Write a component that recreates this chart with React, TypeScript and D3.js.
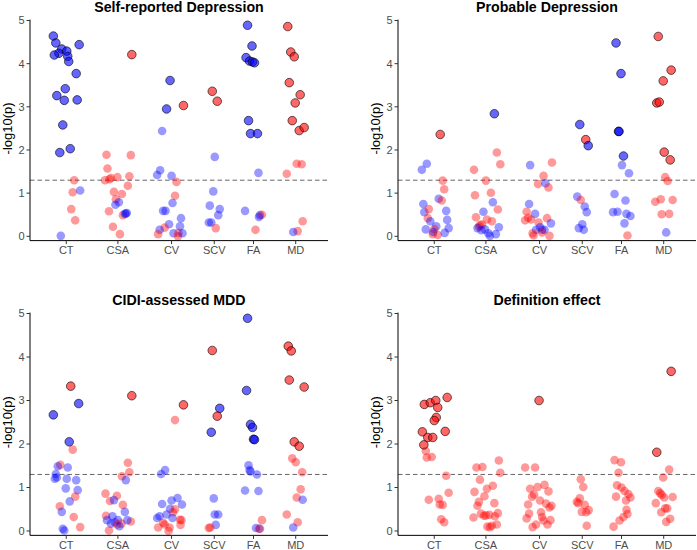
import React from "react";
import * as d3 from "d3";

const categories = ["CT", "CSA", "CV", "SCV", "FA", "MD"];
const categoryPos = [0.73, 1.77, 2.85, 3.71, 4.5, 5.35];
const yTicks = [0, 1, 2, 3, 4, 5];
const threshold = 1.3; // -log10(0.05)
const titles = ["Self-reported Depression", "Probable Depression", "CIDI-assessed MDD", "Definition effect"];

// [category, jitter, -log10(p), direction (1 = blue, -1 = red), significant]
type Pt = [string, number, number, number, number];

const selfReported: Pt[] = [
  ["CT", -0.26, 4.64, 1, 1], ["CT", -0.21, 4.48, 1, 1], ["CT", -0.09, 4.34, 1, 1], ["CT", -0.15, 4.24, 1, 1],
  ["CT", -0.24, 4.2, 1, 1], ["CT", 0.01, 4.29, 1, 1], ["CT", 0.03, 4.17, 1, 1], ["CT", 0.05, 4.05, 1, 1],
  ["CT", 0.26, 4.44, 1, 1], ["CT", 0.2, 3.77, 1, 1], ["CT", -0.02, 3.42, 1, 1], ["CT", -0.19, 3.26, 1, 1],
  ["CT", -0.04, 3.15, 1, 1], ["CT", 0.22, 3.16, 1, 1], ["CT", -0.07, 2.58, 1, 1], ["CT", 0.08, 2.03, 1, 1],
  ["CT", -0.13, 1.94, 1, 1],
  ["CT", 0.16, 1.3, -1, 0], ["CT", 0.13, 1.02, -1, 0], ["CT", 0.28, 1.06, 1, 0], ["CT", 0.1, 0.63, -1, 0],
  ["CT", 0.18, 0.37, -1, 0], ["CT", -0.11, 0.01, 1, 0],
  ["CSA", 0.28, 4.21, -1, 1],
  ["CSA", -0.23, 1.89, -1, 0], ["CSA", 0.26, 1.88, -1, 0], ["CSA", -0.21, 1.57, -1, 0], ["CSA", -0.26, 1.3, -1, 0],
  ["CSA", -0.14, 1.35, -1, 0], ["CSA", -0.17, 1.32, -1, 0], ["CSA", -0.01, 1.37, -1, 0], ["CSA", 0.23, 1.39, -1, 0],
  ["CSA", 0.2, 1.17, -1, 0], ["CSA", -0.08, 1.03, -1, 0], ["CSA", 0.08, 0.98, -1, 0], ["CSA", -0.04, 0.86, -1, 0],
  ["CSA", 0.02, 0.79, 1, 0], ["CSA", -0.05, 0.73, 1, 0], ["CSA", -0.18, 0.58, -1, 0], ["CSA", 0.1, 0.49, -1, 0],
  ["CSA", 0.16, 0.53, 1, 0], ["CSA", 0.14, 0.52, 1, 0], ["CSA", 0.18, 0.54, 1, 0], ["CSA", -0.1, 0.22, -1, 0],
  ["CSA", 0.04, 0.05, -1, 0],
  ["CV", -0.03, 3.61, 1, 1], ["CV", -0.1, 2.95, 1, 1], ["CV", 0.24, 3.03, -1, 1],
  ["CV", -0.19, 2.44, 1, 0], ["CV", -0.23, 1.53, 1, 0], ["CV", -0.29, 1.42, 1, 0], ["CV", 0.0, 1.4, 1, 0],
  ["CV", 0.1, 1.26, -1, 0], ["CV", 0.07, 0.94, -1, 0], ["CV", 0.02, 0.77, 1, 0], ["CV", -0.17, 0.59, 1, 0],
  ["CV", -0.12, 0.59, 1, 0], ["CV", 0.19, 0.42, 1, 0], ["CV", -0.05, 0.28, 1, 0], ["CV", 0.17, 0.23, 1, 0],
  ["CV", -0.14, 0.2, -1, 0], ["CV", -0.24, 0.15, 1, 0], ["CV", -0.27, 0.05, -1, 0], ["CV", 0.04, 0.07, 1, 0],
  ["CV", 0.13, 0.0, -1, 0], ["CV", 0.14, 0.08, -1, 0], ["CV", 0.22, 0.07, 1, 0],
  ["SCV", -0.04, 3.36, -1, 1], ["SCV", 0.06, 3.13, -1, 1],
  ["SCV", 0.01, 1.84, 1, 0], ["SCV", -0.02, 1.04, 1, 0], ["SCV", -0.09, 0.71, 1, 0], ["SCV", 0.11, 0.63, 1, 0],
  ["SCV", 0.08, 0.49, 1, 0], ["SCV", -0.11, 0.32, 1, 0], ["SCV", -0.06, 0.32, 1, 0], ["SCV", 0.03, 0.19, -1, 0],
  ["FA", -0.12, 4.89, 1, 1], ["FA", -0.03, 4.41, 1, 1], ["FA", -0.15, 4.14, 1, 1], ["FA", -0.08, 4.06, 1, 1],
  ["FA", -0.02, 4.04, 1, 1], ["FA", 0.02, 4.02, 1, 1], ["FA", -0.1, 2.68, 1, 1], ["FA", -0.06, 2.38, 1, 1],
  ["FA", 0.08, 2.38, 1, 1],
  ["FA", 0.1, 1.47, 1, 0], ["FA", -0.17, 0.59, 1, 0], ["FA", 0.13, 0.49, 1, 0], ["FA", 0.17, 0.5, -1, 0],
  ["FA", 0.11, 0.45, 1, 0], ["FA", 0.04, 0.15, -1, 0],
  ["MD", -0.16, 4.86, -1, 1], ["MD", -0.1, 4.27, -1, 1], ["MD", -0.03, 4.16, -1, 1], ["MD", -0.13, 3.56, -1, 1],
  ["MD", 0.09, 3.28, -1, 1], ["MD", -0.01, 3.09, -1, 1], ["MD", -0.07, 2.68, -1, 1], ["MD", 0.07, 2.45, -1, 1],
  ["MD", 0.17, 2.52, -1, 1],
  ["MD", 0.02, 1.68, -1, 0], ["MD", 0.12, 1.67, -1, 0], ["MD", -0.18, 1.45, -1, 0], ["MD", 0.14, 0.35, -1, 0],
  ["MD", 0.04, 0.12, -1, 0], ["MD", -0.05, 0.1, 1, 0],
];

const probable: Pt[] = [
  ["CT", 0.12, 2.36, -1, 1],
  ["CT", -0.25, 1.54, 1, 0], ["CT", -0.15, 1.68, 1, 0], ["CT", 0.17, 1.29, -1, 0], ["CT", 0.2, 1.09, -1, 0],
  ["CT", 0.09, 0.87, 1, 0], ["CT", 0.15, 0.83, -1, 0], ["CT", -0.22, 0.75, 1, 0], ["CT", -0.2, 0.56, 1, 0],
  ["CT", -0.11, 0.63, -1, 0], ["CT", -0.13, 0.42, -1, 0], ["CT", 0.24, 0.59, 1, 0], ["CT", -0.08, 0.35, 1, 0],
  ["CT", 0.26, 0.38, 1, 0], ["CT", -0.17, 0.16, 1, 0], ["CT", 0.04, 0.23, 1, 0], ["CT", 0.29, 0.19, 1, 0],
  ["CT", 0.0, 0.17, -1, 0], ["CT", -0.03, 0.05, -1, 0], ["CT", -0.02, 0.1, 1, 0], ["CT", 0.07, 0.03, -1, 0],
  ["CT", 0.21, 0.08, 1, 0],
  ["CSA", 0.17, 2.84, 1, 1],
  ["CSA", 0.22, 1.94, -1, 0], ["CSA", 0.29, 1.67, -1, 0], ["CSA", -0.24, 1.54, -1, 0], ["CSA", 0.0, 1.29, -1, 0],
  ["CSA", -0.22, 0.95, -1, 0], ["CSA", 0.1, 1.01, -1, 0], ["CSA", 0.14, 0.79, 1, 0], ["CSA", 0.24, 0.62, -1, 0],
  ["CSA", -0.2, 0.44, -1, 0], ["CSA", -0.05, 0.57, 1, 0], ["CSA", 0.02, 0.39, -1, 0], ["CSA", 0.12, 0.35, -1, 0],
  ["CSA", -0.12, 0.26, -1, 0], ["CSA", -0.08, 0.27, -1, 0], ["CSA", -0.14, 0.22, -1, 0], ["CSA", -0.17, 0.19, 1, 0],
  ["CSA", -0.09, 0.14, 1, 0], ["CSA", -0.02, 0.16, 1, 0], ["CSA", 0.05, 0.07, 1, 0], ["CSA", 0.08, 0.01, 1, 0],
  ["CSA", 0.2, 0.05, 1, 0], ["CSA", 0.26, 0.21, 1, 0],
  ["CV", -0.19, 1.65, 1, 0], ["CV", 0.25, 1.71, -1, 0], ["CV", 0.08, 1.4, -1, 0], ["CV", -0.03, 1.21, -1, 0],
  ["CV", 0.12, 1.23, 1, 0], ["CV", 0.18, 1.13, -1, 0], ["CV", -0.21, 0.75, 1, 0], ["CV", -0.26, 0.57, -1, 0],
  ["CV", -0.09, 0.52, 1, 0], ["CV", -0.23, 0.43, -1, 0], ["CV", -0.29, 0.37, -1, 0], ["CV", -0.17, 0.39, -1, 0],
  ["CV", 0.15, 0.42, -1, 0], ["CV", 0.23, 0.3, 1, 0], ["CV", -0.02, 0.32, -1, 0], ["CV", 0.01, 0.21, 1, 0],
  ["CV", -0.07, 0.15, 1, 0], ["CV", 0.1, 0.15, 1, 0], ["CV", 0.05, 0.15, 1, 0], ["CV", 0.05, 0.09, -1, 0],
  ["CV", -0.14, 0.07, -1, 0], ["CV", -0.12, 0.02, -1, 0], ["CV", 0.2, 0.01, -1, 0],
  ["SCV", -0.05, 2.59, 1, 1], ["SCV", 0.07, 2.24, -1, 1], ["SCV", 0.12, 2.1, 1, 1],
  ["SCV", -0.1, 0.92, 1, 0], ["SCV", -0.03, 0.84, -1, 0], ["SCV", 0.05, 0.69, 1, 0], ["SCV", 0.09, 0.56, 1, 0],
  ["SCV", 0.0, 0.28, 1, 0], ["SCV", -0.07, 0.19, 1, 0], ["SCV", 0.03, 0.15, 1, 0],
  ["FA", -0.11, 4.48, 1, 1], ["FA", -0.01, 3.77, 1, 1], ["FA", -0.06, 2.43, 1, 1], ["FA", -0.05, 2.43, 1, 1],
  ["FA", 0.04, 1.86, 1, 1],
  ["FA", 0.01, 1.65, 1, 0], ["FA", 0.15, 1.46, 1, 0], ["FA", -0.14, 0.98, 1, 0], ["FA", 0.08, 0.83, 1, 0],
  ["FA", -0.17, 0.56, 1, 0], ["FA", -0.08, 0.57, 1, 0], ["FA", 0.1, 0.52, 1, 0], ["FA", 0.18, 0.47, 1, 0],
  ["FA", 0.06, 0.3, 1, 0], ["FA", 0.12, 0.02, -1, 0],
  ["MD", -0.11, 4.63, -1, 1], ["MD", 0.15, 3.85, -1, 1], ["MD", -0.01, 3.6, -1, 1], ["MD", -0.14, 3.09, -1, 1],
  ["MD", -0.09, 3.11, -1, 1], ["MD", 0.01, 1.95, -1, 1], ["MD", 0.13, 1.77, -1, 1],
  ["MD", 0.03, 1.37, -1, 0], ["MD", 0.08, 1.28, -1, 0], ["MD", -0.17, 0.8, -1, 0], ["MD", -0.06, 0.86, -1, 0],
  ["MD", 0.18, 0.84, -1, 0], ["MD", -0.04, 0.51, -1, 0], ["MD", 0.11, 0.52, -1, 0], ["MD", 0.05, 0.09, 1, 0],
];

const cidi: Pt[] = [
  ["CT", -0.26, 2.67, 1, 1], ["CT", 0.09, 3.33, -1, 1], ["CT", 0.25, 2.93, 1, 1], ["CT", 0.06, 2.05, 1, 1],
  ["CT", 0.13, 1.87, -1, 0], ["CT", -0.12, 1.52, -1, 0], ["CT", -0.17, 1.49, 1, 0], ["CT", 0.03, 1.46, 1, 0],
  ["CT", -0.21, 1.31, 1, 0], ["CT", -0.23, 1.2, 1, 0], ["CT", -0.19, 1.23, 1, 0], ["CT", 0.01, 1.2, 1, 0],
  ["CT", 0.2, 1.17, 1, 0], ["CT", -0.01, 0.98, 1, 0], ["CT", 0.23, 0.94, 1, 0], ["CT", 0.18, 0.79, -1, 0],
  ["CT", 0.07, 0.68, 1, 0], ["CT", -0.13, 0.57, -1, 0], ["CT", -0.09, 0.44, 1, 0], ["CT", 0.15, 0.32, -1, 0],
  ["CT", 0.28, 0.09, -1, 0], ["CT", -0.07, 0.05, 1, 0], ["CT", -0.04, 0.01, 1, 0],
  ["CSA", 0.28, 3.11, -1, 1],
  ["CSA", 0.2, 1.57, -1, 0], ["CSA", 0.23, 1.35, -1, 0], ["CSA", 0.08, 1.26, -1, 0], ["CSA", 0.16, 1.17, 1, 0],
  ["CSA", -0.25, 0.86, -1, 0], ["CSA", -0.02, 0.81, -1, 0], ["CSA", -0.16, 0.69, -1, 0], ["CSA", -0.08, 0.71, 1, 0],
  ["CSA", 0.1, 0.6, -1, 0], ["CSA", 0.14, 0.44, 1, 0], ["CSA", -0.24, 0.35, -1, 0], ["CSA", -0.11, 0.34, 1, 0],
  ["CSA", -0.22, 0.25, 1, 0], ["CSA", 0.0, 0.25, 1, 0], ["CSA", -0.06, 0.2, 1, 0], ["CSA", -0.14, 0.17, 1, 0],
  ["CSA", -0.02, 0.15, -1, 0], ["CSA", 0.07, 0.17, -1, 0], ["CSA", 0.03, 0.11, 1, 0], ["CSA", 0.26, 0.22, -1, 0],
  ["CSA", 0.19, 0.25, 1, 0], ["CSA", -0.18, 0.01, -1, 0],
  ["CV", 0.24, 2.9, -1, 1],
  ["CV", 0.07, 2.55, -1, 0], ["CV", -0.13, 1.4, 1, 0], ["CV", -0.21, 1.31, 1, 0], ["CV", 0.12, 0.76, 1, 0],
  ["CV", 0.0, 0.7, 1, 0], ["CV", 0.21, 0.61, 1, 0], ["CV", -0.19, 0.62, 1, 0], ["CV", -0.03, 0.51, 1, 0],
  ["CV", 0.07, 0.5, -1, 0], ["CV", -0.1, 0.38, 1, 0], ["CV", 0.03, 0.43, -1, 0], ["CV", -0.24, 0.34, 1, 0],
  ["CV", -0.29, 0.3, 1, 0], ["CV", 0.02, 0.3, 1, 0], ["CV", 0.17, 0.26, -1, 0], ["CV", 0.2, 0.25, -1, 0],
  ["CV", -0.17, 0.19, -1, 0], ["CV", -0.14, 0.15, -1, 0], ["CV", -0.27, 0.08, -1, 0], ["CV", -0.04, 0.08, -1, 0],
  ["CV", -0.06, 0.0, -1, 0], ["CV", 0.18, 0.14, -1, 0],
  ["SCV", -0.04, 4.15, -1, 1], ["SCV", 0.11, 2.82, 1, 1], ["SCV", 0.06, 2.64, -1, 1], ["SCV", -0.06, 2.27, 1, 1],
  ["SCV", -0.01, 0.75, 1, 0], ["SCV", 0.01, 0.38, 1, 0], ["SCV", 0.08, 0.38, 1, 0], ["SCV", 0.03, 0.14, 1, 0],
  ["SCV", -0.11, 0.07, -1, 0], ["SCV", -0.08, 0.08, -1, 0],
  ["FA", -0.12, 4.89, 1, 1], ["FA", -0.14, 3.23, 1, 1], ["FA", -0.06, 2.45, 1, 1], ["FA", -0.02, 2.38, 1, 1],
  ["FA", 0.0, 2.11, 1, 1], ["FA", 0.02, 2.1, 1, 1],
  ["FA", -0.1, 1.51, 1, 0], ["FA", -0.08, 1.4, 1, 0], ["FA", -0.06, 1.37, 1, 0], ["FA", 0.07, 1.3, 1, 0],
  ["FA", -0.17, 0.93, 1, 0], ["FA", 0.1, 0.92, 1, 0], ["FA", 0.17, 0.25, -1, 0], ["FA", 0.05, 0.07, 1, 0],
  ["FA", 0.13, 0.05, 1, 0], ["FA", 0.11, 0.05, -1, 0],
  ["MD", -0.15, 4.25, -1, 1], ["MD", -0.09, 4.14, -1, 1], ["MD", -0.13, 3.47, -1, 1], ["MD", 0.17, 3.31, -1, 1],
  ["MD", -0.03, 2.05, -1, 1], ["MD", 0.07, 1.95, -1, 1],
  ["MD", -0.07, 1.67, -1, 0], ["MD", 0.0, 1.58, -1, 0], ["MD", 0.13, 1.35, -1, 0], ["MD", 0.1, 0.96, -1, 0],
  ["MD", 0.02, 0.77, -1, 0], ["MD", 0.14, 0.72, 1, 0], ["MD", -0.18, 0.38, -1, 0], ["MD", 0.04, 0.2, -1, 0],
  ["MD", -0.05, 0.08, 1, 0],
];

const definition: Pt[] = [
  ["CT", 0.26, 3.07, -1, 1], ["CT", -0.2, 2.91, -1, 1], ["CT", -0.08, 2.95, -1, 1], ["CT", 0.03, 3.0, -1, 1],
  ["CT", 0.07, 2.84, -1, 1], ["CT", 0.04, 2.61, -1, 1], ["CT", 0.0, 2.54, -1, 1], ["CT", -0.24, 2.28, -1, 1],
  ["CT", 0.22, 2.29, -1, 1], ["CT", -0.13, 2.15, -1, 1], ["CT", -0.03, 2.15, -1, 1], ["CT", -0.21, 1.98, -1, 1],
  ["CT", -0.17, 1.84, -1, 0], ["CT", -0.15, 1.69, -1, 0], ["CT", -0.05, 1.7, -1, 0], ["CT", 0.24, 1.27, -1, 0],
  ["CT", 0.29, 0.88, -1, 0], ["CT", -0.11, 0.72, -1, 0], ["CT", 0.09, 0.74, -1, 0], ["CT", 0.11, 0.61, -1, 0],
  ["CT", 0.17, 0.6, -1, 0], ["CT", 0.14, 0.27, -1, 0], ["CT", 0.2, 0.2, -1, 0],
  ["CSA", -0.19, 1.46, -1, 0], ["CSA", -0.07, 1.47, -1, 0], ["CSA", 0.26, 1.62, -1, 0], ["CSA", 0.29, 1.34, -1, 0],
  ["CSA", -0.12, 1.18, -1, 0], ["CSA", 0.14, 1.04, -1, 0], ["CSA", 0.02, 0.97, -1, 0], ["CSA", -0.23, 0.9, -1, 0],
  ["CSA", -0.03, 0.8, -1, 0], ["CSA", -0.14, 0.67, -1, 0], ["CSA", -0.17, 0.58, -1, 0], ["CSA", 0.17, 0.64, -1, 0],
  ["CSA", -0.1, 0.4, -1, 0], ["CSA", -0.04, 0.35, -1, 0], ["CSA", 0.0, 0.36, -1, 0], ["CSA", 0.07, 0.37, -1, 0],
  ["CSA", 0.24, 0.41, -1, 0], ["CSA", 0.18, 0.34, -1, 0], ["CSA", -0.25, 0.31, -1, 0], ["CSA", 0.03, 0.1, -1, 0],
  ["CSA", 0.08, 0.09, -1, 0], ["CSA", 0.12, 0.12, -1, 0], ["CSA", 0.22, 0.15, -1, 0],
  ["CV", -0.01, 3.0, -1, 1],
  ["CV", -0.29, 1.46, -1, 0], ["CV", -0.09, 1.46, -1, 0], ["CV", -0.19, 0.97, -1, 0], ["CV", -0.04, 1.01, -1, 0],
  ["CV", 0.1, 1.06, -1, 0], ["CV", 0.18, 0.91, -1, 0], ["CV", -0.11, 0.84, -1, 0], ["CV", -0.15, 0.79, -1, 0],
  ["CV", 0.01, 0.7, -1, 0], ["CV", 0.13, 0.63, -1, 0], ["CV", -0.23, 0.61, -1, 0], ["CV", 0.24, 0.58, -1, 0],
  ["CV", 0.2, 0.54, -1, 0], ["CV", 0.03, 0.43, -1, 0], ["CV", -0.21, 0.4, -1, 0], ["CV", 0.05, 0.32, -1, 0],
  ["CV", -0.26, 0.29, -1, 0], ["CV", 0.08, 0.24, -1, 0], ["CV", 0.22, 0.25, -1, 0], ["CV", -0.07, 0.15, -1, 0],
  ["CV", 0.16, 0.15, -1, 0], ["CV", -0.14, 0.09, -1, 0],
  ["SCV", -0.03, 1.19, -1, 0], ["SCV", 0.02, 1.01, -1, 0], ["SCV", -0.05, 0.75, -1, 0], ["SCV", -0.11, 0.67, -1, 0],
  ["SCV", -0.08, 0.64, -1, 0], ["SCV", 0.05, 0.6, -1, 0], ["SCV", 0.13, 0.48, -1, 0], ["SCV", -0.01, 0.44, -1, 0],
  ["SCV", 0.08, 0.43, -1, 0], ["SCV", 0.09, 0.12, -1, 0],
  ["FA", -0.14, 1.63, -1, 0], ["FA", -0.01, 1.58, -1, 0], ["FA", -0.06, 1.34, -1, 0], ["FA", -0.09, 1.05, -1, 0],
  ["FA", 0.0, 1.0, -1, 0], ["FA", 0.06, 0.92, -1, 0], ["FA", 0.14, 0.85, -1, 0], ["FA", -0.11, 0.79, -1, 0],
  ["FA", 0.18, 0.77, -1, 0], ["FA", 0.09, 0.7, -1, 0], ["FA", 0.1, 0.49, -1, 0], ["FA", 0.12, 0.39, -1, 0],
  ["FA", 0.04, 0.32, -1, 0], ["FA", -0.04, 0.24, -1, 0], ["FA", -0.16, 0.1, -1, 0],
  ["MD", 0.15, 3.67, -1, 1], ["MD", -0.14, 1.81, -1, 1],
  ["MD", 0.11, 1.41, -1, 0], ["MD", -0.01, 1.23, -1, 0], ["MD", -0.11, 0.92, -1, 0], ["MD", -0.07, 0.87, -1, 0],
  ["MD", -0.04, 0.83, -1, 0], ["MD", 0.18, 0.78, -1, 0], ["MD", 0.01, 0.77, -1, 0], ["MD", -0.16, 0.64, -1, 0],
  ["MD", 0.07, 0.52, -1, 0], ["MD", 0.03, 0.52, -1, 0], ["MD", -0.05, 0.43, -1, 0], ["MD", 0.13, 0.28, -1, 0],
  ["MD", 0.05, 0.21, -1, 0],
];

const panelData = [selfReported, probable, cidi, definition];

const W = 697;
const H = 550;
const plotW = 298;
const colX = [30, 398];
const rows = [
  { zero: 236.3, five: 20.5 },
  { zero: 531, five: 313.5 },
];
const font = "'Liberation Sans', Arial, Helvetica, sans-serif";

function Panel({ title, data, x0, row }: { title: string; data: Pt[]; x0: number; row: { zero: number; five: number } }) {
  const x = d3.scaleLinear().domain([0, 6]).range([x0, x0 + plotW]);
  const y = d3.scaleLinear().domain([0, 5]).range([row.zero, row.five]);
  const axisY = y(-0.1);
  const topY = y(5.02);
  const pos = (c: string) => categoryPos[categories.indexOf(c)];
  // non-significant points first, outlined ones on top
  const pts = [...data].sort((a, b) => a[4] - b[4]);

  return (
    <g>
      <text x={x0 + plotW / 2} y={row.five - 9} textAnchor="middle" fontWeight="bold" fontSize={14.2} fill="#000">
        {title}
      </text>
      <line x1={x0} x2={x0 + plotW} y1={y(threshold)} y2={y(threshold)} stroke="#666" strokeWidth={1} strokeDasharray="4.5,3" />
      {pts.map((d, i) => (
        <circle
          key={i}
          cx={x(pos(d[0]) + d[1])}
          cy={y(d[2])}
          r={4.3}
          fill={d[3] > 0 ? "#0000ff" : "#ff0000"}
          fillOpacity={d[4] ? 0.6 : 0.4}
          stroke={d[4] ? "#000" : "none"}
          strokeOpacity={0.75}
          strokeWidth={0.8}
        />
      ))}
      <line x1={x0} x2={x0} y1={topY} y2={axisY} stroke="#000" strokeWidth={1} />
      <line x1={x0} x2={x0 + plotW} y1={axisY} y2={axisY} stroke="#000" strokeWidth={1} />
      {yTicks.map((t) => (
        <g key={t}>
          <line x1={x0 - 3.5} x2={x0} y1={y(t)} y2={y(t)} stroke="#333" strokeWidth={1} />
          <text x={x0 - 5.5} y={y(t)} dy="0.35em" textAnchor="end" fontSize={11} fill="#4d4d4d">
            {t}
          </text>
        </g>
      ))}
      {categories.map((c, i) => (
        <g key={c}>
          <line x1={x(categoryPos[i])} x2={x(categoryPos[i])} y1={axisY} y2={axisY + 3.5} stroke="#333" strokeWidth={1} />
          <text x={x(categoryPos[i])} y={row.zero + 17.5} textAnchor="middle" fontSize={11} fill="#4d4d4d">
            {c}
          </text>
        </g>
      ))}
      <text
        transform={`translate(${x0 - 18.5},${(row.zero + row.five) / 2}) rotate(-90)`}
        textAnchor="middle"
        fontSize={13}
        fill="#000"
      >
        -log10(p)
      </text>
    </g>
  );
}

export default function App() {
  return (
    <div style={{ position: "absolute", left: 0, top: 0, width: W, height: H, background: "#fff" }}>
      <svg width={W} height={H} viewBox={`0 0 ${W} ${H}`} style={{ display: "block", fontFamily: font }}>
        <rect width={W} height={H} fill="#fff" />
        {titles.map((t, i) => (
          <Panel key={t} title={t} data={panelData[i]} x0={colX[i % 2]} row={rows[Math.floor(i / 2)]} />
        ))}
      </svg>
    </div>
  );
}
